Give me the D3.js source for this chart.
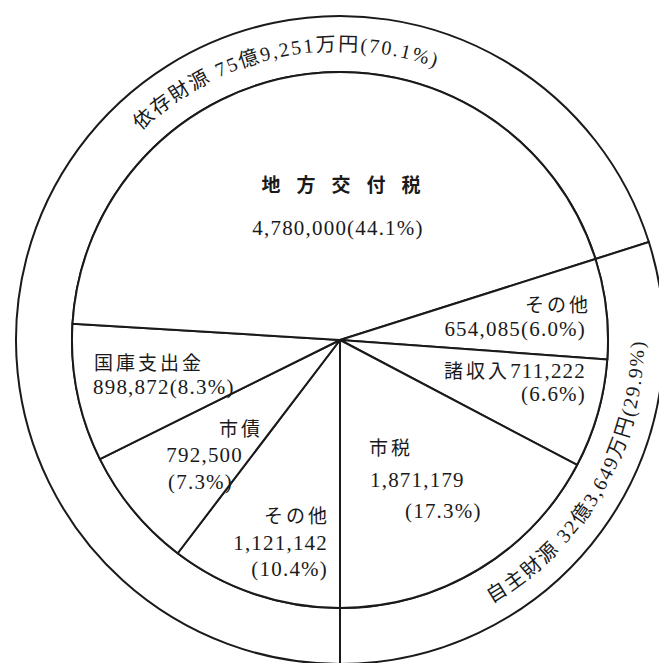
<!DOCTYPE html>
<html>
<head>
<meta charset="utf-8">
<script src="https://cdn.jsdelivr.net/npm/d3@7"></script>
<style>
  html, body { margin: 0; padding: 0; background: #fff; }
  svg { display: block; }
  .cjk { font-family: "Noto Sans CJK JP", sans-serif; }
  .lat { font-family: "Liberation Serif", serif; }
  .ringText { font-family: "Liberation Serif", "Noto Sans CJK JP", serif; }
</style>
</head>
<body>
<div id="pieChart"></div>
<script>
// Revenue items in thousand yen, clockwise starting from the bottom
var itemNames = ["その他", "市債", "国庫支出金", "地方交付税", "その他", "諸収入", "市税"];
var itemValues = [1121142, 792500, 898872, 4780000, 654085, 711222, 1871179];
var itemGroups = ["依存財源", "依存財源", "依存財源", "依存財源", "自主財源", "自主財源", "自主財源"];
var groupNames = ["依存財源", "自主財源"];

// Label layout: which text goes on each row, and where (svg px)
// n = name, v = value, p = (percent), vp / nv = joined on one row
var labelLayout = [
    [["n", 330, 523, "end"], ["v", 328, 550, "end"], ["p", 328, 576, "end"]],
    [["n", 263, 436, "end"], ["v", 243, 462, "end"], ["p", 233, 489, "end"]],
    [["n", 94, 370, "start"], ["vp", 93, 394, "start"]],
    [["n", 349, 192, "middle"], ["vp", 338, 235, "middle"]],
    [["n", 591, 312, "end"], ["vp", 586, 336, "end"]],
    [["nv", 586, 378, "end"], ["p", 586, 401, "end"]],
    [["n", 369, 455, "start"], ["v", 370, 487, "start"], ["p", 405, 518, "start"]]
];

var width = 659, height = 663;
var cx = 340, cy = 340;
var rInner = 268, rOuter = 324;

var items = itemNames.map(function (n, i) {
    return { name: n, value: itemValues[i], group: itemGroups[i] };
});
var total = d3.sum(itemValues);
var groups = groupNames.map(function (g) {
    return { name: g, value: d3.sum(items.filter(function (d) { return d.group === g; }), function (d) { return d.value; }) };
});

var fmt = d3.format(",");
var pct = function (v) { return d3.format(".1f")(v / total * 100); };
function okuMan(v) {
    var oku = Math.floor(v / 100000);
    var man = Math.round((v % 100000) / 10);
    return oku + "億" + fmt(man) + "万円";
}

var svg = d3.select("#pieChart")
    .append("svg")
    .attr("width", width)
    .attr("height", height);

var g = svg.append("g")
    .attr("transform", "translate(" + cx + "," + cy + ")");

var pie = d3.pie()
    .sort(null)
    .value(function (d) { return d.value; })
    .startAngle(Math.PI)
    .endAngle(3 * Math.PI);

var innerArc = d3.arc().innerRadius(0).outerRadius(rInner);
var ringArc = d3.arc().innerRadius(rInner).outerRadius(rOuter);

// outer ring (two groups)
g.selectAll(".ring")
    .data(pie(groups))
    .enter()
    .append("path")
    .attr("class", "ring")
    .attr("d", ringArc)
    .attr("fill", "#fff")
    .attr("stroke", "#1a1a1a")
    .attr("stroke-width", 2);

// inner pie
g.selectAll(".slice")
    .data(pie(items))
    .enter()
    .append("path")
    .attr("class", "slice")
    .attr("d", innerArc)
    .attr("fill", "#fff")
    .attr("stroke", "#1a1a1a")
    .attr("stroke-width", 2)
    .attr("stroke-linejoin", "round");

// split a string into CJK / latin runs so each gets its own font
function addRuns(textSel, str, cjkSize, latSize, cjkSpacing, latSpacing) {
    var runs = str.match(/[\u3000-\u9fff\uff00-\uffef]+|[^\u3000-\u9fff\uff00-\uffef]+/g);
    runs.forEach(function (r) {
        var isCjk = /[\u3000-\u9fff\uff00-\uffef]/.test(r);
        textSel.append("tspan")
            .attr("class", isCjk ? "cjk" : "lat")
            .style("font-size", (isCjk ? cjkSize : latSize) + "px")
            .style("letter-spacing", (isCjk ? cjkSpacing : latSpacing) + "px")
            .text(r);
    });
}

// slice labels
items.forEach(function (d, i) {
    labelLayout[i].forEach(function (row) {
        var s;
        if (row[0] === "n") s = d.name;
        else if (row[0] === "v") s = fmt(d.value);
        else if (row[0] === "p") s = "(" + pct(d.value) + "%)";
        else if (row[0] === "vp") s = fmt(d.value) + "(" + pct(d.value) + "%)";
        else s = d.name + fmt(d.value);

        var t = svg.append("text")
            .attr("x", row[1])
            .attr("y", row[2])
            .attr("text-anchor", row[3])
            .attr("fill", "#1a1a1a");

        if (d.name === "地方交付税" && row[0] === "n") {
            t.style("font-weight", "bold");
            addRuns(t, s, 19, 21, 16, 1.2);
        } else {
            addRuns(t, s, 19, 21, 3, 1.2);
        }
    });
});

// curved ring labels
var ringLabelLayout = [
    { mid: -12, r: 289, flip: false },
    { mid: 120, r: 304, flip: true }
];

pie(groups).forEach(function (d, i) {
    var lay = ringLabelLayout[i];
    var m = lay.mid * Math.PI / 180 - Math.PI / 2;
    var p = d3.path();
    if (!lay.flip) {
        p.arc(0, 0, lay.r, m - Math.PI / 2, m + Math.PI / 2, false);
    } else {
        p.arc(0, 0, lay.r, m + Math.PI / 2, m - Math.PI / 2, true);
    }
    g.append("path")
        .attr("id", "ringPath" + i)
        .attr("d", p.toString())
        .attr("fill", "none");

    var label = d.data.name + " " + okuMan(d.data.value) + "(" + pct(d.data.value) + "%)";
    g.append("text")
        .attr("class", "ringText")
        .attr("fill", "#1a1a1a")
        .style("font-size", "20px")
        .style("letter-spacing", "2px")
        .append("textPath")
        .attr("href", "#ringPath" + i)
        .attr("startOffset", "50%")
        .attr("text-anchor", "middle")
        .text(label);
});
</script>
</body>
</html>
